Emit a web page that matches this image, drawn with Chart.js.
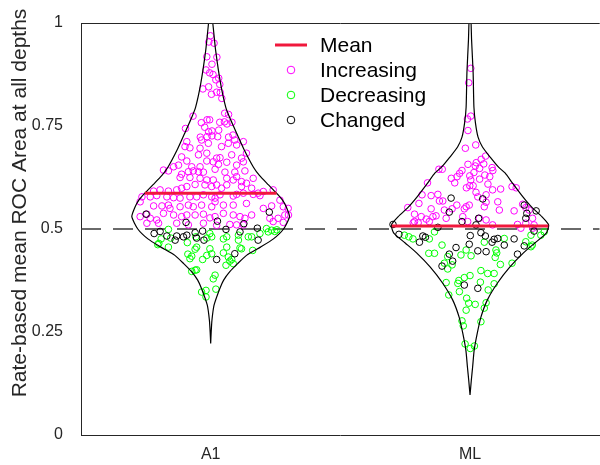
<!DOCTYPE html>
<html>
<head>
<meta charset="utf-8">
<script src="https://cdn.jsdelivr.net/npm/chart.js@4.4.1/dist/chart.umd.min.js"></script>
<style>
  html, body { margin: 0; padding: 0; background: #fff; overflow: hidden; }
  #wrap { width: 600px; height: 465px; overflow: hidden; }
  canvas { display: block; }
</style>
</head>
<body>
<div id="wrap"><canvas id="roc-chart" width="604" height="465"></canvas></div>
<script>
const categories = ["A1", "ML"];
const yTicks = [0, 0.25, 0.5, 0.75, 1];
const yTickLabels = ["0", "0.25", "0.5", "0.75", "1"];
const yTitle = "Rate-based mean ROC Area at all depths";
const legendLabels = ["Mean", "Increasing", "Decreasing", "Changed"];

const chanceLevel = 0.5;
const meanValues = [0.587, 0.507];

// violin outlines: half-width (in category units) at each ROC level
const a1Levels = [0.222, 0.25, 0.279, 0.315, 0.355, 0.376, 0.396, 0.416, 0.436, 0.456, 0.476, 0.5, 0.53, 0.553, 0.57, 0.587, 0.607, 0.63, 0.65, 0.69, 0.73, 0.765, 0.796, 0.854, 0.934, 1.0, 1.03];
const a1Widths = [0, 0.002, 0.005, 0.013, 0.035, 0.05, 0.073, 0.104, 0.138, 0.192, 0.242, 0.281, 0.304, 0.292, 0.277, 0.254, 0.223, 0.188, 0.165, 0.131, 0.102, 0.077, 0.058, 0.038, 0.019, 0.008, 0];
const mlLevels = [0.097, 0.133, 0.165, 0.206, 0.247, 0.286, 0.328, 0.369, 0.408, 0.442, 0.466, 0.49, 0.51, 0.53, 0.553, 0.578, 0.612, 0.636, 0.65, 0.675, 0.699, 0.723, 0.757, 0.796, 0.879, 0.959, 1.0, 1.03];
const mlWidths = [0, 0.005, 0.01, 0.016, 0.028, 0.042, 0.067, 0.106, 0.154, 0.206, 0.25, 0.294, 0.303, 0.277, 0.238, 0.204, 0.163, 0.135, 0.11, 0.077, 0.048, 0.031, 0.021, 0.015, 0.012, 0.006, 0.004, 0];

// per-unit values (y) and horizontal jitter (dx) for each group
const a1IncreasingY = [
  0.969, 0.954, 0.951, 0.918, 0.917, 0.900, 0.886, 0.879, 0.875, 0.866,
  0.862, 0.851, 0.840, 0.845, 0.832, 0.827, 0.831, 0.817, 0.781, 0.778,
  0.774, 0.744, 0.765, 0.765, 0.758, 0.747, 0.736, 0.738, 0.759, 0.760,
  0.755, 0.759, 0.740, 0.723, 0.724, 0.726, 0.724, 0.723, 0.728, 0.712,
  0.716, 0.716, 0.700, 0.697, 0.696, 0.708, 0.700, 0.708, 0.704, 0.712,
  0.675, 0.665, 0.680, 0.684, 0.672, 0.673, 0.680, 0.672, 0.684, 0.655,
  0.651, 0.651, 0.665, 0.663, 0.657, 0.662, 0.655, 0.663, 0.651, 0.643,
  0.641, 0.633, 0.639, 0.641, 0.639, 0.638, 0.645, 0.638, 0.638, 0.627,
  0.641, 0.625, 0.625, 0.623, 0.619, 0.619, 0.623, 0.619, 0.615, 0.623,
  0.592, 0.595, 0.592, 0.595, 0.599, 0.603, 0.608, 0.607, 0.603, 0.607,
  0.599, 0.607, 0.603, 0.611, 0.599, 0.587, 0.591, 0.595, 0.578, 0.578,
  0.581, 0.578, 0.576, 0.575, 0.578, 0.578, 0.583, 0.578, 0.575, 0.583,
  0.580, 0.584, 0.587, 0.584, 0.581, 0.570, 0.566, 0.556, 0.556, 0.558,
  0.550, 0.554, 0.558, 0.554, 0.558, 0.554, 0.566, 0.558, 0.558, 0.562,
  0.550, 0.556, 0.554, 0.550, 0.530, 0.536, 0.526, 0.522, 0.538, 0.534,
  0.530, 0.534, 0.534, 0.536, 0.527, 0.530, 0.538, 0.534, 0.530, 0.526,
  0.534, 0.526, 0.526, 0.534, 0.534, 0.514, 0.514, 0.514, 0.510, 0.514,
  0.511, 0.510, 0.510, 0.518, 0.516, 0.509
];
const a1IncreasingDx = [
  -0.001, -0.007, 0.013, -0.015, 0.024, 0.005, -0.018, -0.004, 0.009, 0.031,
  0.020, 0.035, -0.030, -0.008, 0.023, 0.003, 0.037, 0.043, 0.054, 0.069,
  -0.068, -0.097, -0.014, -0.004, -0.036, -0.023, -0.008, 0.005, 0.035, 0.053,
  0.063, 0.082, 0.031, -0.040, -0.014, 0.005, 0.027, 0.069, 0.086, -0.092,
  -0.035, 0.093, -0.099, -0.080, -0.041, -0.009, 0.042, 0.068, 0.100, 0.126,
  -0.112, -0.092, -0.047, -0.015, 0.023, 0.036, 0.081, 0.119, 0.138, -0.124,
  -0.073, -0.041, -0.015, 0.010, 0.030, 0.062, 0.100, 0.126, -0.143, -0.182,
  -0.163, -0.112, -0.086, -0.067, -0.047, -0.028, 0.017, 0.055, 0.093, 0.100,
  0.132, -0.118, -0.080, -0.041, -0.015, 0.010, 0.062, 0.087, 0.119, 0.164,
  -0.220, -0.195, -0.163, -0.131, -0.112, -0.092, -0.060, -0.022, 0.004, 0.023,
  0.042, 0.062, 0.119, 0.138, 0.158, 0.183, 0.203, 0.241, -0.265, -0.233,
  -0.208, -0.169, -0.143, -0.118, -0.080, -0.054, -0.028, 0.004, 0.017, 0.036,
  0.087, 0.100, 0.126, 0.164, 0.190, 0.267, -0.272, -0.220, -0.188, -0.163,
  -0.157, -0.118, -0.086, -0.067, -0.035, 0.004, 0.017, 0.049, 0.087, 0.138,
  0.203, 0.235, 0.280, 0.299, -0.272, -0.246, -0.233, -0.208, -0.182, -0.143,
  -0.112, -0.092, -0.060, -0.028, -0.003, 0.017, 0.049, 0.087, 0.113, 0.132,
  0.158, 0.228, 0.260, 0.286, 0.300, -0.246, -0.201, -0.131, -0.086, -0.028,
  0.074, 0.100, 0.126, 0.241, 0.280, 0.023
];
const a1DecreasingY = [
  0.476, 0.462, 0.456, 0.478, 0.467, 0.481, 0.478, 0.489, 0.481, 0.439,
  0.434, 0.428, 0.451, 0.456, 0.436, 0.452, 0.440, 0.426, 0.397, 0.400,
  0.401, 0.388, 0.379, 0.351, 0.347, 0.335, 0.354, 0.476, 0.481, 0.442,
  0.456, 0.432, 0.422, 0.412, 0.416, 0.426, 0.473, 0.485, 0.454, 0.452,
  0.481, 0.481, 0.448, 0.489, 0.501, 0.493, 0.497, 0.494, 0.499, 0.465,
  0.498
];
const a1DecreasingDx = [
  -0.191, -0.204, -0.163, -0.154, -0.090, -0.057, -0.015, -0.003, 0.004, -0.088,
  -0.073, -0.080, -0.060, -0.054, -0.015, -0.003, 0.004, -0.031, -0.073, -0.060,
  -0.054, 0.017, 0.010, -0.018, -0.035, -0.018, 0.020, 0.049, 0.062, 0.049,
  0.062, 0.068, 0.074, 0.059, 0.087, 0.081, 0.107, 0.107, 0.113, 0.119,
  0.145, 0.158, 0.162, 0.190, 0.215, 0.222, 0.235, 0.247, -0.163, -0.200,
  0.255
];
const a1ChangedY = [0.536, 0.516, 0.519, 0.513, 0.541, 0.489, 0.494, 0.483, 0.473, 0.483, 0.481, 0.485, 0.491, 0.478, 0.495, 0.473, 0.499, 0.493, 0.440, 0.426, 0.502, 0.473];
const a1ChangedDx = [-0.249, -0.095, 0.026, 0.128, 0.226, -0.218, -0.195, -0.169, -0.137, -0.131, -0.105, -0.092, -0.060, -0.054, -0.031, -0.026, 0.059, 0.113, 0.093, 0.023, 0.180, 0.183];

const mlIncreasingY = [
  0.890, 0.855, 0.774, 0.767, 0.739, 0.696, 0.704, 0.677, 0.669, 0.661,
  0.657, 0.658, 0.653, 0.647, 0.649, 0.642, 0.645, 0.645, 0.642, 0.635,
  0.637, 0.627, 0.623, 0.629, 0.631, 0.627, 0.612, 0.619, 0.621, 0.612,
  0.609, 0.605, 0.605, 0.600, 0.597, 0.603, 0.600, 0.584, 0.581, 0.583,
  0.589, 0.578, 0.583, 0.595, 0.562, 0.549, 0.568, 0.568, 0.546, 0.558,
  0.554, 0.549, 0.558, 0.554, 0.565, 0.566, 0.544, 0.560, 0.552, 0.546,
  0.552, 0.536, 0.530, 0.518, 0.530, 0.532, 0.518, 0.524, 0.526, 0.549,
  0.530, 0.518, 0.526, 0.522, 0.510, 0.511, 0.502, 0.514, 0.526, 0.510,
  0.546, 0.515, 0.515, 0.502
];
const mlIncreasingDx = [
  0.003, -0.005, 0.003, -0.010, -0.008, -0.018, 0.022, 0.060, 0.043, 0.024,
  -0.008, 0.053, 0.020, 0.037, 0.085, 0.088, -0.120, -0.107, -0.031, -0.040,
  0.015, -0.050, -0.072, -0.001, 0.057, 0.076, -0.059, 0.003, 0.037, -0.164,
  0.069, -0.001, 0.012, -0.014, 0.118, 0.162, 0.178, -0.124, -0.150, -0.185,
  0.023, 0.030, 0.062, 0.087, -0.197, -0.150, -0.118, -0.105, -0.099, -0.051,
  -0.015, -0.022, -0.003, 0.055, 0.062, 0.107, 0.170, 0.203, 0.215, 0.228,
  -0.240, -0.214, -0.188, -0.157, -0.143, -0.131, -0.214, -0.169, -0.092, -0.069,
  -0.028, -0.009, 0.036, 0.062, 0.087, 0.183, 0.196, 0.215, 0.241, 0.247,
  0.113, -0.219, -0.200, 0.242
];
const mlDecreasingY = [
  0.485, 0.481, 0.476, 0.476, 0.493, 0.461, 0.441, 0.441, 0.433, 0.437,
  0.449, 0.435, 0.468, 0.449, 0.477, 0.469, 0.485, 0.485, 0.493, 0.457,
  0.461, 0.417, 0.403, 0.413, 0.442, 0.431, 0.414, 0.417, 0.399, 0.392,
  0.392, 0.370, 0.375, 0.368, 0.382, 0.387, 0.371, 0.367, 0.340, 0.348,
  0.332, 0.320, 0.317, 0.303, 0.321, 0.308, 0.352, 0.277, 0.265, 0.275,
  0.221, 0.210, 0.216
];
const mlDecreasingDx = [
  -0.253, -0.236, -0.220, -0.157, -0.137, -0.108, -0.159, -0.137, -0.086, -0.035,
  -0.015, 0.004, 0.055, 0.100, 0.132, 0.215, 0.235, 0.273, 0.286, 0.235,
  0.240, -0.099, -0.086, -0.069, 0.103, 0.097, 0.117, 0.162, 0.042, 0.068,
  0.093, -0.092, -0.043, -0.047, -0.022, 0.000, 0.040, 0.093, -0.082, -0.041,
  -0.013, -0.005, 0.020, -0.015, 0.062, 0.055, 0.070, -0.031, -0.026, 0.042,
  -0.019, 0.001, 0.017
];
const mlChangedY = [
  0.575, 0.541, 0.518, 0.573, 0.526, 0.510, 0.504, 0.511, 0.487, 0.483,
  0.480, 0.468, 0.484, 0.491, 0.463, 0.483, 0.475, 0.477, 0.468, 0.461,
  0.476, 0.455, 0.447, 0.445, 0.439, 0.558, 0.526, 0.544, 0.439, 0.459,
  0.495, 0.538, 0.422, 0.410, 0.364, 0.356
];
const mlChangedDx = [
  -0.073, -0.080, -0.031, 0.049, 0.033, 0.023, -0.124, -0.297, -0.274, -0.182,
  -0.172, -0.195, 0.001, 0.042, -0.003, 0.059, 0.093, 0.107, 0.085, 0.132,
  0.170, -0.054, 0.030, 0.062, 0.183, 0.209, 0.215, 0.255, -0.080, 0.209,
  0.247, 0.219, -0.067, -0.108, -0.022, 0.030
];

const FONT = '"Liberation Sans", Arial, Helvetica, sans-serif';
const AXIS_COLOR = "#262626";
const MEAN_COLOR = "rgb(240, 24, 60)";
const INC_COLOR = "#ff00ff";
const DEC_COLOR = "#00ff00";
const CHG_COLOR = "#000000";

function jitterPoints(center, ys, dxs) {
  return ys.map((y, i) => ({ x: center + dxs[i], y: y }));
}

function violinOutline(center, levels, widths) {
  const right = levels.map((v, i) => ({ x: center + widths[i], y: v }));
  const left = levels.map((v, i) => ({ x: center - widths[i], y: v })).reverse().slice(1);
  return right.concat(left);
}

function widthAt(levels, widths, v) {
  for (let i = 1; i < levels.length; i++) {
    if (v <= levels[i]) {
      const t = (v - levels[i - 1]) / (levels[i] - levels[i - 1]);
      return widths[i - 1] + t * (widths[i] - widths[i - 1]);
    }
  }
  return 0;
}

const profiles = [
  { levels: a1Levels, widths: a1Widths },
  { levels: mlLevels, widths: mlWidths },
];

function meanSegment(i) {
  const c = i + 1;
  const w = widthAt(profiles[i].levels, profiles[i].widths, meanValues[i]);
  return [{ x: c - w, y: meanValues[i] }, { x: c + w, y: meanValues[i] }];
}

function lineSet(data, color, width, extra) {
  return Object.assign({
    data: data,
    showLine: true,
    borderColor: color,
    borderWidth: width,
    pointRadius: 0,
    pointHoverRadius: 0,
    fill: false,
  }, extra || {});
}

function pointSet(data, color) {
  return {
    data: data,
    showLine: false,
    pointStyle: "circle",
    pointRadius: 3.3,
    pointHoverRadius: 3.3,
    pointBorderWidth: 1,
    pointBorderColor: color,
    pointBackgroundColor: "rgba(0,0,0,0)",
  };
}

// first dataset ends up drawn on top
const datasets = [
  lineSet(meanSegment(0), MEAN_COLOR, 3),
  lineSet(meanSegment(1), MEAN_COLOR, 3),
  lineSet(violinOutline(1, a1Levels, a1Widths), "#000", 1.2, { tension: 0.2 }),
  lineSet(violinOutline(2, mlLevels, mlWidths), "#000", 1.2, { tension: 0.2 }),
  pointSet(jitterPoints(1, a1ChangedY, a1ChangedDx), CHG_COLOR),
  pointSet(jitterPoints(2, mlChangedY, mlChangedDx), CHG_COLOR),
  pointSet(jitterPoints(1, a1DecreasingY, a1DecreasingDx), DEC_COLOR),
  pointSet(jitterPoints(2, mlDecreasingY, mlDecreasingDx), DEC_COLOR),
  pointSet(jitterPoints(1, a1IncreasingY, a1IncreasingDx), INC_COLOR),
  pointSet(jitterPoints(2, mlIncreasingY, mlIncreasingDx), INC_COLOR),
  lineSet([{ x: 0.5, y: chanceLevel }, { x: 2.5, y: chanceLevel }], "#3a3a3a", 1.6, { borderDash: [20, 12] }),
];

// top edge of the axes box
const framePlugin = {
  id: "frame",
  afterDraw(chart) {
    const { ctx, chartArea } = chart;
    ctx.save();
    ctx.strokeStyle = AXIS_COLOR;
    ctx.lineWidth = 1;
    ctx.beginPath();
    ctx.moveTo(chartArea.left, chartArea.top + 0.5);
    ctx.lineTo(chartArea.right, chartArea.top + 0.5);
    ctx.stroke();
    ctx.restore();
  },
};

const yTitlePlugin = {
  id: "yTitle",
  afterDraw(chart) {
    const ctx = chart.ctx;
    ctx.save();
    ctx.translate(20, 203);
    ctx.rotate(-Math.PI / 2);
    ctx.font = `21px ${FONT}`;
    ctx.fillStyle = AXIS_COLOR;
    ctx.textAlign = "center";
    ctx.textBaseline = "middle";
    ctx.fillText(yTitle, 0, 0);
    ctx.restore();
  },
};

const legendPlugin = {
  id: "legendBlock",
  afterDraw(chart) {
    const ctx = chart.ctx;
    const colors = [MEAN_COLOR, INC_COLOR, DEC_COLOR, CHG_COLOR];
    ctx.save();
    ctx.font = `21px ${FONT}`;
    ctx.textBaseline = "middle";
    legendLabels.forEach((label, i) => {
      const y = 45 + i * 25;
      if (i === 0) {
        ctx.strokeStyle = colors[i];
        ctx.lineWidth = 3;
        ctx.beginPath();
        ctx.moveTo(275, y);
        ctx.lineTo(307, y);
        ctx.stroke();
      } else {
        ctx.strokeStyle = colors[i];
        ctx.lineWidth = 1;
        ctx.beginPath();
        ctx.arc(291, y, 3.8, 0, Math.PI * 2);
        ctx.stroke();
      }
      ctx.fillStyle = "#000";
      ctx.fillText(label, 320, y + 1);
    });
    ctx.restore();
  },
};

const ctx = document.getElementById("roc-chart").getContext("2d");

const rocChart = new Chart(ctx, {
  type: "scatter",
  data: { datasets: datasets },
  options: {
    responsive: false,
    animation: false,
    events: [],
    layout: { padding: { top: 23, right: 2, left: 0, bottom: 0 } },
    plugins: {
      legend: { display: false },
      tooltip: { enabled: false },
    },
    scales: {
      x: {
        type: "linear",
        min: 0.5,
        max: 2.5,
        grid: { display: false },
        border: { display: true, color: AXIS_COLOR, width: 1 },
        afterBuildTicks: (scale) => {
          scale.ticks = categories.map((c, i) => ({ value: i + 1 }));
        },
        afterFit: (scale) => {
          scale.height = 30;
        },
        ticks: {
          color: AXIS_COLOR,
          font: { family: FONT, size: 16 },
          padding: 2,
          maxRotation: 0,
          autoSkip: false,
          callback: (value) => categories[Math.round(value) - 1],
        },
      },
      y: {
        type: "linear",
        min: 0,
        max: 1,
        grid: { display: false },
        border: { display: true, color: AXIS_COLOR, width: 1 },
        afterBuildTicks: (scale) => {
          scale.ticks = yTicks.map((v) => ({ value: v }));
        },
        afterFit: (scale) => {
          scale.width = 81;
        },
        ticks: {
          color: AXIS_COLOR,
          font: { family: FONT, size: 16 },
          padding: 10,
          callback: (value) => yTickLabels[yTicks.indexOf(value)],
        },
      },
    },
  },
  plugins: [framePlugin, yTitlePlugin, legendPlugin],
});
</script>
</body>
</html>
